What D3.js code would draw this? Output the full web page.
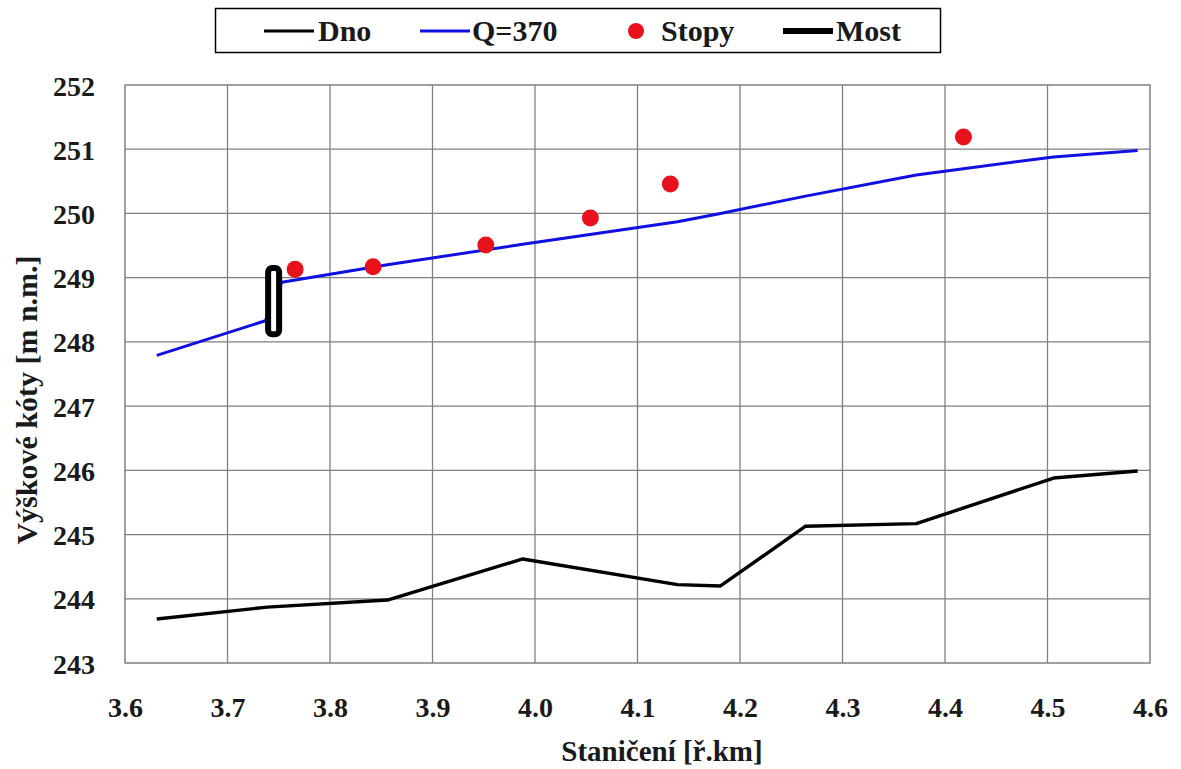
<!DOCTYPE html>
<html>
<head>
<meta charset="utf-8">
<script src="https://cdn.jsdelivr.net/npm/d3@7"></script>
<style>
	html, body { margin: 0; padding: 0; background: #ffffff; }
	svg { display: block; }
	text { font-family: "Liberation Serif", "Times New Roman", serif; font-weight: bold; fill: #1a1a1a; }
</style>
</head>
<body>
<svg id="chart" width="1181" height="769"></svg>
<script>
// Dno (river bed)
var dnoX = [3.631, 3.739, 3.856, 3.988, 4.139, 4.181, 4.264, 4.372, 4.506, 4.588];
var dnoY = [243.685, 243.87, 243.98, 244.62, 244.22, 244.2, 245.13, 245.17, 245.88, 245.99];

// Q=370 water level
var hladX = [3.631, 3.737, 3.753, 3.856, 3.988, 4.139, 4.181, 4.264, 4.372, 4.506, 4.588];
var hladY = [247.79, 248.33, 248.93, 249.2, 249.52, 249.87, 250.0, 250.27, 250.6, 250.88, 250.98];

// Stopy (flood marks)
var stopyX = [3.766, 3.842, 3.952, 4.054, 4.132, 4.418];
var stopyY = [249.13, 249.17, 249.51, 249.93, 250.46, 251.19];

// Most (bridge)
var mostX = [3.745, 3.745];
var mostY = [248.12, 249.15];

var xTicks = [3.6, 3.7, 3.8, 3.9, 4.0, 4.1, 4.2, 4.3, 4.4, 4.5, 4.6];
var yTicks = [243, 244, 245, 246, 247, 248, 249, 250, 251, 252];

var plotLeft = 125, plotRight = 1150, plotTop = 85, plotBottom = 663;

var svg = d3.select("#chart");

var x = d3.scaleLinear().domain([3.6, 4.6]).range([plotLeft, plotRight]);
var y = d3.scaleLinear().domain([243, 252]).range([plotBottom, plotTop]);

// grid
var grid = svg.append("g");
grid.selectAll("line.vx")
	.data(xTicks.slice(1, -1))
	.enter().append("line")
	.attr("x1", function(d) { return x(d); })
	.attr("x2", function(d) { return x(d); })
	.attr("y1", plotTop)
	.attr("y2", plotBottom)
	.style("stroke", "#808080")
	.style("stroke-width", 1.3);

grid.selectAll("line.hy")
	.data(yTicks.slice(1, -1))
	.enter().append("line")
	.attr("x1", plotLeft)
	.attr("x2", plotRight)
	.attr("y1", function(d) { return y(d); })
	.attr("y2", function(d) { return y(d); })
	.style("stroke", "#808080")
	.style("stroke-width", 1.3);

svg.append("rect")
	.attr("x", plotLeft)
	.attr("y", plotTop)
	.attr("width", plotRight - plotLeft)
	.attr("height", plotBottom - plotTop)
	.style("fill", "none")
	.style("stroke", "#808080")
	.style("stroke-width", 1.5);

// axes (labels only, Excel style)
var xAxis = d3.axisBottom(x).tickValues(xTicks).tickFormat(d3.format(".1f")).tickSize(0).tickPadding(0);
var gx = svg.append("g").attr("transform", "translate(0," + plotBottom + ")").call(xAxis);
gx.select(".domain").remove();
gx.selectAll("text")
	.attr("y", 54)
	.attr("dy", 0)
	.style("font-size", "28px")
	.style("font-family", "Liberation Serif, serif")
	.style("font-weight", "bold")
	.style("fill", "#1a1a1a");

var yAxis = d3.axisLeft(y).tickValues(yTicks).tickFormat(d3.format("d")).tickSize(0).tickPadding(0);
var gy = svg.append("g").attr("transform", "translate(" + plotLeft + ",0)").call(yAxis);
gy.select(".domain").remove();
gy.selectAll("text")
	.attr("x", -30)
	.attr("dy", "0.36em")
	.style("font-size", "28px")
	.style("font-family", "Liberation Serif, serif")
	.style("font-weight", "bold")
	.style("fill", "#1a1a1a");

// axis titles
svg.append("text")
	.attr("x", 662)
	.attr("y", 761)
	.style("text-anchor", "middle")
	.style("font-size", "29px")
	.text("Staničení [ř.km]");

svg.append("text")
	.attr("transform", "translate(37, 400) rotate(-90)")
	.style("text-anchor", "middle")
	.style("font-size", "30px")
	.text("Výškové kóty [m n.m.]");

// series
var line = d3.line()
	.x(function(d) { return x(d[0]); })
	.y(function(d) { return y(d[1]); });

svg.append("path")
	.datum(d3.zip(dnoX, dnoY))
	.attr("d", line)
	.style("fill", "none")
	.style("stroke", "#000000")
	.style("stroke-width", 3.4)
	.style("stroke-linejoin", "round");

svg.append("path")
	.datum(d3.zip(hladX, hladY))
	.attr("d", line)
	.style("fill", "none")
	.style("stroke", "#1010e0")
	.style("stroke-width", 3)
	.style("stroke-linejoin", "round");

// bridge
svg.append("rect")
	.attr("x", x(mostX[0]) - 5.5)
	.attr("y", y(mostY[1]))
	.attr("width", 11)
	.attr("height", y(mostY[0]) - y(mostY[1]))
	.attr("rx", 4)
	.style("fill", "#ffffff")
	.style("stroke", "#000000")
	.style("stroke-width", 6);

svg.selectAll("circle.stopy")
	.data(d3.zip(stopyX, stopyY))
	.enter().append("circle")
	.attr("cx", function(d) { return x(d[0]); })
	.attr("cy", function(d) { return y(d[1]); })
	.attr("r", 8.5)
	.style("fill", "#e8121c");

// legend
var legend = svg.append("g");
legend.append("rect")
	.attr("x", 215.5)
	.attr("y", 8.5)
	.attr("width", 725)
	.attr("height", 44)
	.style("fill", "#ffffff")
	.style("stroke", "#000000")
	.style("stroke-width", 1.5);

var legItems = [
	{ name: "Dno", type: "line", color: "#000000", width: 3, sx: 264, tx: 318 },
	{ name: "Q=370", type: "line", color: "#1010e0", width: 3, sx: 420, tx: 472 },
	{ name: "Stopy", type: "dot", color: "#e8121c", sx: 636, tx: 661 },
	{ name: "Most", type: "line", color: "#000000", width: 6, sx: 783, tx: 836 }
];

legItems.forEach(function(it) {
	if (it.type == "line") {
		legend.append("line")
			.attr("x1", it.sx)
			.attr("x2", it.sx + 50)
			.attr("y1", 31)
			.attr("y2", 31)
			.style("stroke", it.color)
			.style("stroke-width", it.width);
	}
	else {
		legend.append("circle")
			.attr("cx", it.sx)
			.attr("cy", 31)
			.attr("r", 8)
			.style("fill", it.color);
	}
	legend.append("text")
		.attr("x", it.tx)
		.attr("y", 41)
		.style("font-size", "30px")
		.text(it.name);
});
</script>
</body>
</html>
